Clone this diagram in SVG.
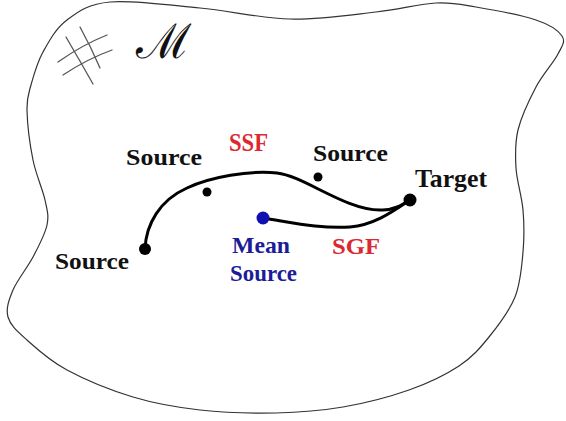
<svg xmlns="http://www.w3.org/2000/svg" width="566" height="421" viewBox="0 0 566 421">
  <style>
    .outline { fill: none; stroke: #333; stroke-width: 1.2; }
    .hash { fill: none; stroke: #555; stroke-width: 1.3; stroke-linecap: round; }
    .flow { fill: none; stroke: #000; stroke-width: 3; stroke-linecap: round; }
    .lbl { font-family: "Liberation Serif", "Times New Roman", serif; font-weight: bold; }
    .black { fill: #111; }
    .red { fill: #dc2830; }
    .blue { fill: #1c1c99; }
  </style>

  <rect width="566" height="421" fill="#fff"/>

  <!-- manifold boundary -->
  <g id="manifold">
    <path class="outline" d="M110,2 C132.2,0 170,5.2 200,8 C230,10.8 260.7,18.3 290,19 C319.3,19.7 351.7,14.7 376,12 C400.3,9.3 419.3,3.8 436,3 C452.7,2.2 459.3,4.2 476,7 C492.7,9.8 521.7,15.2 536,20 C550.3,24.8 558.3,30.3 562,36 C565.7,41.7 562.3,45.5 558,54 C553.7,62.5 542.7,74.3 536,87 C529.3,99.7 521.3,116.5 518,130 C514.7,143.5 515.2,154.7 516,168 C516.8,181.3 521.8,196 523,210 C524.2,224 524.3,237.5 523,252 C521.7,266.5 520.7,282.8 515,297 C509.3,311.2 498.3,325.5 489,337 C479.7,348.5 472.3,357.2 459,366 C445.7,374.8 428.3,383.2 409,390 C389.7,396.8 365.2,403.2 343,407 C320.8,410.8 299.8,412.5 276,413 C252.2,413.5 223.8,412.7 200,410 C176.2,407.3 155.2,403.7 133,397 C110.8,390.3 84.7,379.5 67,370 C49.3,360.5 36.8,348.8 27,340 C17.2,331.2 10.3,325.3 8,317 C5.7,308.7 8.8,300 13,290 C17.2,280 27.3,267.8 33,257 C38.7,246.2 45,234.5 47,225 C49,215.5 47.3,210.8 45,200 C42.7,189.2 36,175 33,160 C30,145 27.3,122.5 27,110 C26.7,97.5 28.3,94.7 31,85 C33.7,75.3 37,62.8 43,52 C49,41.2 55.8,28.3 67,20 C78.2,11.7 87.8,4 110,2 Z"/>
    <!-- grid mark -->
    <path class="hash" d="M80,27 Q91,47 100,68"/>
    <path class="hash" d="M66,37 Q80,61 93,84"/>
    <path class="hash" d="M58,62 Q82,45 107,35"/>
    <path class="hash" d="M63,75 Q87,59 112,50"/>
    <text x="136" y="58" font-family="DejaVu Serif, serif" font-size="48" fill="#111">ℳ</text>
  </g>

  <!-- connectors -->
  <g id="connectors">
    <path id="ssf" class="flow" d="M145,249 C146,224 160,200 187,188 C210,177 250,170 277,173 C304,176 345,210 380,210 C392,211 402,205 410,200"/>
    <path id="sgf" class="flow" d="M263,218 C290,222 320,229 350,227 C375,225 395,210 410,200"/>
    <text class="lbl red" x="229" y="150.5" font-size="25" textLength="39" lengthAdjust="spacingAndGlyphs">SSF</text>
    <text class="lbl red" x="332" y="254" font-size="24" textLength="48" lengthAdjust="spacingAndGlyphs">SGF</text>
  </g>

  <!-- nodes -->
  <g id="source-left">
    <circle cx="145" cy="249" r="6" fill="#000"/>
    <text class="lbl black" x="55" y="269" font-size="24" textLength="74" lengthAdjust="spacingAndGlyphs">Source</text>
  </g>
  <g id="source-upper-left">
    <circle cx="207" cy="192" r="4.5" fill="#000"/>
    <text class="lbl black" x="126" y="164.5" font-size="23" textLength="76" lengthAdjust="spacingAndGlyphs">Source</text>
  </g>
  <g id="source-upper-right">
    <circle cx="318" cy="177" r="4.5" fill="#000"/>
    <text class="lbl black" x="313" y="161" font-size="23" textLength="75" lengthAdjust="spacingAndGlyphs">Source</text>
  </g>
  <g id="target">
    <circle cx="410" cy="200" r="6.5" fill="#000"/>
    <text class="lbl black" x="415" y="187" font-size="25" textLength="72" lengthAdjust="spacingAndGlyphs">Target</text>
  </g>
  <g id="mean-source">
    <circle cx="263" cy="218" r="6.5" fill="#1010b0"/>
    <text class="lbl blue" x="232" y="253" font-size="23" textLength="58" lengthAdjust="spacingAndGlyphs">Mean</text>
    <text class="lbl blue" x="230" y="281" font-size="23" textLength="67" lengthAdjust="spacingAndGlyphs">Source</text>
  </g>
</svg>
